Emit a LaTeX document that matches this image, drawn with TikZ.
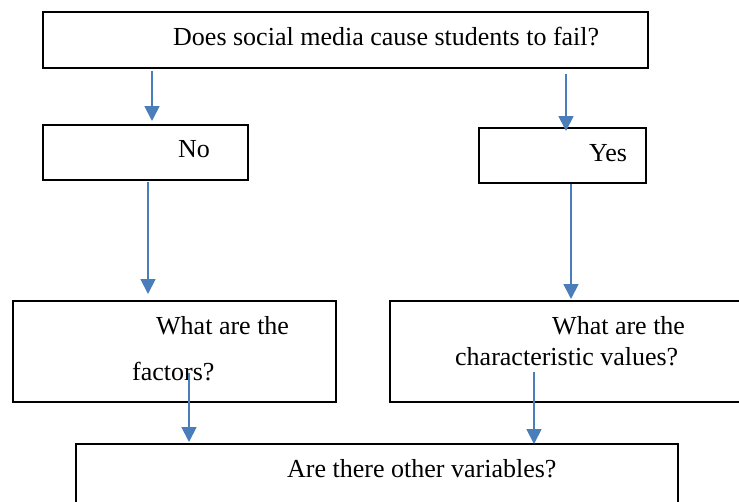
\documentclass[tikz,border=0pt]{standalone}
\usepackage{fontspec}
\setmainfont{Liberation Serif}
\usetikzlibrary{arrows.meta}
\definecolor{flowblue}{HTML}{4A7EBB}
\begin{document}
\begin{tikzpicture}[x=1pt,y=-1pt,
  box/.style={draw=black, line width=2pt, inner sep=0pt, fill=none},
  lbl/.style={anchor=base west, inner sep=0pt, font=\fontsize{26}{30}\selectfont},
  arr/.style={draw=flowblue, line width=1.8pt, -{Triangle[width=15pt,length=15pt]}}]
\useasboundingbox (0,0) rectangle (739,501);
\fill[white] (0,0) rectangle (739,501);

% boxes
\node[box, minimum width=605pt, minimum height=56pt]  (q)   at (345.5,40)   {};
\node[box, minimum width=205pt, minimum height=55pt]  (no)  at (145.5,152.5) {};
\node[box, minimum width=167pt, minimum height=55pt]  (yes) at (562.5,155.5) {};
\node[box, minimum width=323pt, minimum height=101pt] (fac) at (174.5,351.5) {};
\node[box, minimum width=370pt, minimum height=101pt] (chr) at (575,351.5)   {};
\node[box, minimum width=602pt, minimum height=86pt]  (var) at (377,487)     {};

% texts
\node[lbl] (tq)  at (173,45)  {Does social media cause students to fail?};
\node[lbl] (tno) at (178,157) {No};
\node[lbl] (tyes) at (589,161) {Yes};
\node[lbl] (tf1) at (156,334) {What are the};
\node[lbl] (tf2) at (132,380) {factors?};
\node[lbl] (tc1) at (552,334) {What are the};
\node[lbl] (tc2) at (455,365) {characteristic values?};
\node[lbl] (tv)  at (287,477) {Are there other variables?};

% arrow columns
\coordinate (c1) at (152,0);
\coordinate (c2) at (566,0);
\coordinate (c3) at (148,0);
\coordinate (c4) at (571,0);
\coordinate (c5) at (189,0);
\coordinate (c6) at (534,0);

% connectors
\draw[arr] ([yshift=-2pt]q.south -| c1)  -- ([yshift=3pt]no.north -| c1);
\draw[arr] ([yshift=-5pt]q.south -| c2)  -- ([yshift=-4pt]yes.north -| c2);
\draw[arr] ([yshift=-1pt]no.south -| c3) -- ([yshift=6pt]fac.north -| c3);
\draw[arr] (yes.south -| c4)             -- ([yshift=1pt]chr.north -| c4);
\draw[arr] ([yshift=30pt]fac.south -| c5) -- ([yshift=1pt]var.north -| c5);
\draw[arr] ([yshift=31pt]chr.south -| c6) -- ([yshift=-1pt]var.north -| c6);
\end{tikzpicture}
\end{document}
